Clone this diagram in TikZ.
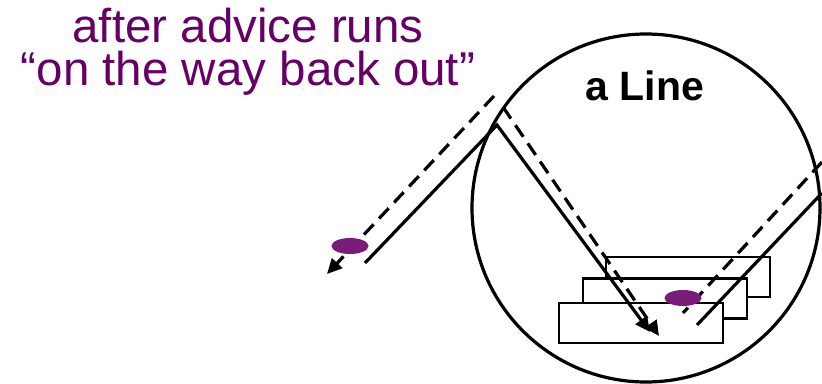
\documentclass[tikz,border=0pt]{standalone}
\usepackage{fontspec}
\setmainfont{Liberation Sans}
\usetikzlibrary{arrows.meta,shapes.geometric}
\definecolor{roxo}{RGB}{102,0,102}
\definecolor{mancharoxa}{RGB}{122,28,122}

\begin{document}
\begin{tikzpicture}[x=1pt,y=-1pt,
    linha/.style={line width=3.2pt},
    tracejado/.style={line width=3.2pt,dash pattern=on 14pt off 8pt},
    seta/.style={-{Triangle[length=15pt,width=14pt]}},
    caixa/.style={draw,fill=white,line width=2.5pt,minimum width=164pt,minimum height=40pt,inner sep=0pt},
    mancha/.style={ellipse,fill=mancharoxa,minimum width=37pt,minimum height=16pt,inner sep=0pt},
    titulo/.style={text=roxo,anchor=base,inner sep=0pt,font=\fontsize{47.5}{48}\selectfont}]
        \useasboundingbox (0,0) rectangle (822,383);

        % texto
        \node[titulo] (txt1) at (248,42) {after advice runs};
        \node[titulo] (txt2) at (248,85) {“on the way back out”};

        % objeto
        \node[circle,draw,line width=3.2pt,minimum size=348pt,inner sep=0pt] (obj) at (646,208) {};
        \node[anchor=base,inner sep=0pt,font=\bfseries\fontsize{41}{41}\selectfont] (nome) at (645,100) {a Line};

        % caixas
        \foreach \i/\x/\y in {1/688/277, 2/665/298.5, 3/641/323}
        \node[caixa] (cx\i) at (\x,\y) {};

        % pontos das setas
        \coordinate (a1) at (365,263);
        \coordinate (topo) at (497,125);
        \coordinate (a2) at (650,332);
        \coordinate (b1) at (822,193);
        \coordinate (b2) at (697,325);
        \coordinate (c1) at (822,162);
        \coordinate (c2) at (683,313);
        \coordinate (d1) at (503,107);
        \coordinate (d2) at (659,336);
        \coordinate (e1) at (494,96);
        \coordinate (e2) at (327,274);

        % setas
        \draw[linha,seta] (a1) -- (topo) -- (a2);
        \draw[linha] (b1) -- (b2);
        \draw[tracejado] (c1) -- (c2);
        \draw[tracejado,seta] (d1) -- (d2);
        \draw[tracejado,seta] (e1) -- (e2);

        % manchas
        \node[mancha] (m1) at (350,246) {};
        \node[mancha] (m2) at (683,298) {};
    \end{tikzpicture}
\end{document}
